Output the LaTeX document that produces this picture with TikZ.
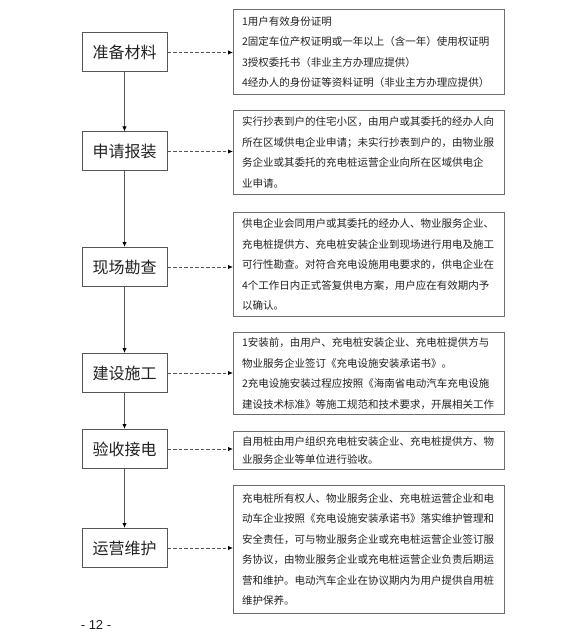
\documentclass[tikz,border=0pt]{standalone}
\usepackage{fontspec}
\newfontfamily\cjk{Noto Sans CJK SC}
\newfontfamily\lsans{Liberation Sans}
\usetikzlibrary{arrows.meta}
\definecolor{boxline}{HTML}{555555}
\definecolor{txt}{HTML}{222222}
\begin{document}
\begin{tikzpicture}[x=1pt,y=-1pt,
  stepbox/.style={draw=boxline,line width=1pt,minimum width=85pt,minimum height=39pt,inner sep=0pt,
    font=\cjk\fontsize{16}{18}\selectfont,text=txt},
  descbox/.style={draw=boxline!85,line width=1pt,minimum width=271pt,inner xsep=8.5pt,inner ysep=0pt,
    text width=254pt,align=left,anchor=north west,font=\cjk\fontsize{10.5}{20.5}\selectfont,text=txt},
  flow/.style={draw=boxline,line width=1pt,-{Latex[length=5pt,width=4.5pt,black]}},
  dflow/.style={draw=boxline,line width=1pt,dash pattern=on 3.5pt off 2pt,-{Latex[length=5pt,width=4.5pt,black]}}
]
\useasboundingbox (0,0) rectangle (584,636);
\fill[white] (0,0) rectangle (584,636);

% left step boxes
\node[stepbox] (s1) at (124.5,52.5) {准备材料};
\node[stepbox] (s2) at (124.5,151.5) {申请报装};
\node[stepbox] (s3) at (124.5,267) {现场勘查};
\node[stepbox] (s4) at (124.5,373) {建设施工};
\node[stepbox] (s5) at (124.5,449) {验收接电};
\node[stepbox] (s6) at (124.5,548) {运营维护};

% right description boxes
\node[descbox,minimum height=85pt] (d1) at (233,9) {1用户有效身份证明\\2固定车位产权证明或一年以上（含一年）使用权证明\\3授权委托书（非业主方办理应提供）\\4经办人的身份证等资料证明（非业主方办理应提供）};
\node[descbox,minimum height=84pt] (d2) at (233,110) {实行抄表到户的住宅小区，由用户或其委托的经办人向\\所在区域供电企业申请；未实行抄表到户的，由物业服\\务企业或其委托的充电桩运营企业向所在区域供电企\\业申请。};
\node[descbox,minimum height=104pt] (d3) at (233,212) {供电企业会同用户或其委托的经办人、物业服务企业、\\充电桩提供方、充电桩安装企业到现场进行用电及施工\\可行性勘查。对符合充电设施用电要求的，供电企业在\\4个工作日内正式答复供电方案，用户应在有效期内予\\以确认。};
\node[descbox,minimum height=82pt] (d4) at (233,332) {1安装前，由用户、充电桩安装企业、充电桩提供方与\\物业服务企业签订《充电设施安装承诺书》。\\2充电设施安装过程应按照《海南省电动汽车充电设施\\建设技术标准》等施工规范和技术要求，开展相关工作};
\node[descbox,minimum height=38pt,font=\cjk\fontsize{10.5}{18}\selectfont] (d5) at (233,431) {自用桩由用户组织充电桩安装企业、充电桩提供方、物\\业服务企业等单位进行验收。};
\node[descbox,minimum height=128pt] (d6) at (233,485) {充电桩所有权人、物业服务企业、充电桩运营企业和电\\动车企业按照《充电设施安装承诺书》落实维护管理和\\安全责任，可与物业服务企业或充电桩运营企业签订服\\务协议，由物业服务企业或充电桩运营企业负责后期运\\营和维护。电动汽车企业在协议期内为用户提供自用桩\\维护保养。};

% vertical flow
\draw[flow] (s1) -- (s2);
\draw[flow] (s2) -- (s3);
\draw[flow] (s3) -- (s4);
\draw[flow] (s4) -- (s5);
\draw[flow] (s5) -- (s6);

% dashed connectors
\foreach \i in {1,...,6}{
  \draw[dflow] (s\i.east) -- (s\i.east -| d\i.west);
}

% page number
\node[font=\lsans\fontsize{13}{15}\selectfont,text=txt,inner sep=0pt] (pg) at (96,625) {- 12 -};
\end{tikzpicture}
\end{document}
